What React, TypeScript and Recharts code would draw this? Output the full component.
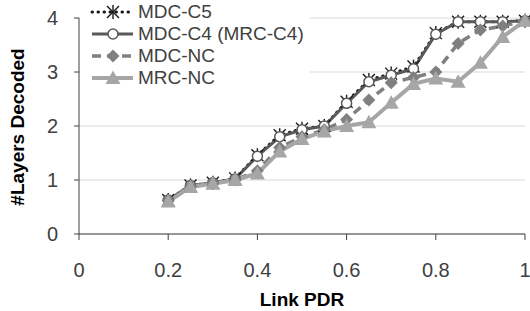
import { LineChart, Line, XAxis, YAxis, CartesianGrid } from "recharts";

const pdr = [0.2, 0.25, 0.3, 0.35, 0.4, 0.45, 0.5, 0.55, 0.6, 0.65, 0.7, 0.75, 0.8, 0.85, 0.9, 0.95, 1.0];
const mdcC5 = [0.63, 0.9, 0.95, 1.03, 1.46, 1.83, 1.95, 2.0, 2.45, 2.85, 2.97, 3.1, 3.72, 3.93, 3.93, 3.93, 3.95];
const mdcC4 = [0.63, 0.9, 0.95, 1.02, 1.44, 1.8, 1.93, 2.0, 2.42, 2.82, 2.94, 3.06, 3.7, 3.93, 3.93, 3.93, 3.95];
const mdcNC = [0.62, 0.88, 0.95, 1.0, 1.17, 1.6, 1.8, 1.93, 2.12, 2.48, 2.8, 2.9, 3.0, 3.53, 3.78, 3.85, 3.95];
const mrcNC = [0.6, 0.87, 0.93, 1.0, 1.12, 1.53, 1.76, 1.9, 2.0, 2.07, 2.43, 2.78, 2.88, 2.82, 3.17, 3.65, 3.95];

const xTicks = [0, 0.2, 0.4, 0.6, 0.8, 1];
const yTicks = [0, 1, 2, 3, 4];

const data = pdr.map((x, i) => ({
  x,
  c5: mdcC5[i],
  c4: mdcC4[i],
  nc: mdcNC[i],
  mrc: mrcNC[i],
}));

const FONT = "'Liberation Sans', Arial, sans-serif";
const TXT = "#404040";

// marker shapes, Excel style
function Star({ cx, cy, color }: { cx: number; cy: number; color: string }) {
  const r = 6;
  return (
    <g stroke={color} strokeWidth={1.4} fill="none">
      <line x1={cx - r} y1={cy - r} x2={cx + r} y2={cy + r} />
      <line x1={cx - r} y1={cy + r} x2={cx + r} y2={cy - r} />
      <line x1={cx} y1={cy - r - 1} x2={cx} y2={cy + r + 1} />
    </g>
  );
}

function Circle({ cx, cy, color }: { cx: number; cy: number; color: string }) {
  return <circle cx={cx} cy={cy} r={5} fill="#fff" stroke={color} strokeWidth={1.5} />;
}

function Diamond({ cx, cy, color }: { cx: number; cy: number; color: string }) {
  const r = 6.5;
  return (
    <path d={`M${cx},${cy - r}L${cx + r},${cy}L${cx},${cy + r}L${cx - r},${cy}Z`} fill={color} />
  );
}

function Triangle({ cx, cy, color }: { cx: number; cy: number; color: string }) {
  const r = 7.5;
  return (
    <path d={`M${cx},${cy - r}L${cx + r},${cy + r * 0.8}L${cx - r},${cy + r * 0.8}Z`} fill={color} />
  );
}

const series = [
  { key: "c5", name: "MDC-C5", color: "#1a1a1a", width: 3, dash: "0.5 5.5", Mark: Star },
  { key: "c4", name: "MDC-C4 (MRC-C4)", color: "#595959", width: 3, dash: undefined, Mark: Circle },
  { key: "nc", name: "MDC-NC", color: "#808080", width: 3.5, dash: "9 6", Mark: Diamond },
  { key: "mrc", name: "MRC-NC", color: "#a6a6a6", width: 4, dash: undefined, Mark: Triangle },
];

function LegendBox() {
  return (
    <div
      style={{
        position: "absolute",
        left: 80,
        top: 1,
        width: 230,
        background: "#fff",
        fontFamily: FONT,
        fontSize: 19,
        color: TXT,
      }}
    >
      {series.map((s) => (
        <div key={s.key} style={{ display: "flex", alignItems: "center", height: 22 }}>
          <svg width={58} height={22}>
            <line
              x1={12}
              y1={11}
              x2={53}
              y2={11}
              stroke={s.color}
              strokeWidth={s.width}
              strokeDasharray={s.dash}
              strokeLinecap={s.key === "c5" ? "round" : "butt"}
            />
            <s.Mark cx={33} cy={11} color={s.color} />
          </svg>
          <span>{s.name}</span>
        </div>
      ))}
    </div>
  );
}

export default function App() {
  return (
    <div style={{ position: "absolute", left: 0, top: 0, width: 530, height: 311 }}>
      <LineChart width={530} height={311} data={data} margin={{ top: 18, right: 5, bottom: 0, left: 0 }}>
        <CartesianGrid vertical={false} stroke="#d9d9d9" />
        <XAxis
          type="number"
          dataKey="x"
          domain={[0, 1]}
          ticks={xTicks}
          height={77}
          stroke="#404040"
          tickSize={6}
          tickMargin={23}
          tick={{ fill: TXT, fontSize: 20, fontFamily: FONT }}
          tickFormatter={(v: number) => String(v)}
          label={{
            content: () => (
              <text x={302} y={306} textAnchor="middle" fontFamily={FONT} fontSize={19} fontWeight="bold" fill="#000">
                Link PDR
              </text>
            ),
          }}
        />
        <YAxis
          type="number"
          domain={[0, 4]}
          ticks={yTicks}
          width={79}
          stroke="#404040"
          tickSize={5}
          tickMargin={16}
          tick={{ fill: TXT, fontSize: 20, fontFamily: FONT }}
          label={{
            content: () => (
              <text
                x={17}
                y={127}
                transform="rotate(-90 17 127)"
                textAnchor="middle"
                dominantBaseline="central"
                fontFamily={FONT}
                fontSize={19}
                fontWeight="bold"
                fill="#000"
              >
                #Layers Decoded
              </text>
            ),
          }}
        />
        {series.map((s) => (
          <Line
            key={s.key}
            dataKey={s.key}
            name={s.name}
            stroke={s.color}
            strokeWidth={s.width}
            strokeDasharray={s.dash}
            strokeLinecap={s.key === "c5" ? "round" : "butt"}
            isAnimationActive={false}
            dot={(p: any) => (
              <g key={`${s.key}-${p.index}`}>
                <s.Mark cx={p.cx} cy={p.cy} color={s.color} />
              </g>
            )}
            activeDot={false}
          />
        ))}
      </LineChart>
      <LegendBox />
    </div>
  );
}
